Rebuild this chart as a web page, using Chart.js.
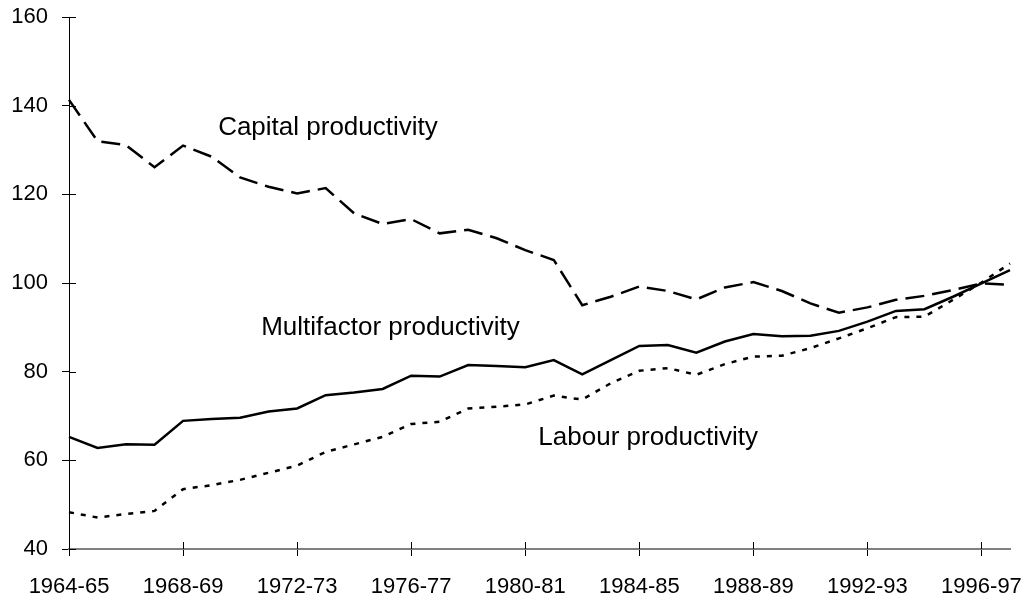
<!DOCTYPE html>
<html>
<head>
<meta charset="utf-8">
<script src="https://cdn.jsdelivr.net/npm/chart.js@4.4.0/dist/chart.umd.min.js"></script>
<style>
  html, body { margin: 0; padding: 0; background: #fff; }
  #wrap { width: 1030px; height: 604px; }
</style>
</head>
<body>
<div id="wrap"><canvas id="prod-chart" width="1030" height="604"></canvas></div>
<script>
// years on the x axis, 1964-65 .. 1997-98
let years = []
for (let y = 1964; y <= 1997; y++) {
  years.push(y + '-' + String((y + 1) % 100).padStart(2, '0'))
}

// values (index 1996-97 = 100)
let capital = [141.3, 132.0, 131.1, 126.1, 131.0, 128.5, 123.8, 121.7, 120.2, 121.4,
  115.7, 113.3, 114.4, 111.2, 112.0, 110.1, 107.4, 105.2, 95.0, 96.9,
  99.2, 98.2, 96.3, 99.0, 100.2, 98.2, 95.4, 93.3, 94.5, 96.2,
  97.1, 98.4, 99.9, 99.6]
let multifactor = [65.3, 62.8, 63.6, 63.5, 68.9, 69.3, 69.6, 71.0, 71.7, 74.7,
  75.3, 76.1, 79.1, 78.9, 81.5, 81.3, 81.0, 82.6, 79.4, 82.6,
  85.8, 86.0, 84.3, 86.8, 88.5, 88.0, 88.1, 89.2, 91.3, 93.7,
  94.1, 96.9, 99.9, 102.9]
let labour = [48.3, 47.1, 47.9, 48.6, 53.5, 54.4, 55.6, 57.2, 58.8, 61.9,
  63.6, 65.3, 68.2, 68.7, 71.7, 72.1, 72.6, 74.6, 73.7, 77.4,
  80.2, 80.8, 79.3, 81.7, 83.4, 83.6, 85.3, 87.5, 89.8, 92.3,
  92.4, 96.2, 100.1, 104.4]
let yTicks = [40, 60, 80, 100, 120, 140, 160]

// text labels placed on the lines (x = year index, y = value)
let seriesNames = ['Capital productivity', 'Multifactor productivity', 'Labour productivity']
let namePos = [[5.23, 135], [6.74, 89.9], [16.46, 65.0]]

const FONT = 'Liberation Sans, Arial, sans-serif'

// small marks crossing into the plot, and the text labels
const extras = {
  id: 'extras',
  afterDatasetsDraw(chart) {
    const ctx = chart.ctx
    const xs = chart.scales.x
    const ys = chart.scales.y
    ctx.save()
    ctx.strokeStyle = '#000'
    ctx.lineWidth = 1
    ys.ticks.forEach((t, i) => {
      let py = Math.round(ys.getPixelForTick(i)) + 0.5
      ctx.beginPath()
      ctx.moveTo(xs.left, py)
      ctx.lineTo(xs.left + 7, py)
      ctx.stroke()
    })
    xs.ticks.forEach((t, i) => {
      if (i % 4) return
      let px = Math.round(xs.getPixelForTick(i)) + 0.5
      ctx.beginPath()
      ctx.moveTo(px, ys.bottom)
      ctx.lineTo(px, ys.bottom - 7)
      ctx.stroke()
    })
    ctx.fillStyle = '#000'
    ctx.font = '26px ' + FONT
    ctx.textBaseline = 'middle'
    ctx.textAlign = 'left'
    seriesNames.forEach((name, i) => {
      let px = xs.left + namePos[i][0] * (xs.right - xs.left) / (years.length - 1)
      ctx.fillText(name, px, ys.getPixelForValue(namePos[i][1]))
    })
    ctx.restore()
  }
}

new Chart('prod-chart', {
  type: 'line',
  data: {
    labels: years,
    datasets: [
      {
        label: seriesNames[0],
        data: capital,
        borderColor: '#000',
        borderWidth: 2.5,
        borderDash: [19, 8],
        pointRadius: 0,
        tension: 0
      },
      {
        label: seriesNames[1],
        data: multifactor,
        borderColor: '#000',
        borderWidth: 2.5,
        pointRadius: 0,
        tension: 0
      },
      {
        label: seriesNames[2],
        data: labour,
        borderColor: '#000',
        borderWidth: 2.5,
        borderDash: [5, 7],
        pointRadius: 0,
        tension: 0
      }
    ]
  },
  options: {
    responsive: false,
    animation: false,
    layout: { padding: { left: 0, right: 20, top: 17, bottom: 0 } },
    plugins: {
      legend: { display: false },
      tooltip: { enabled: false }
    },
    scales: {
      x: {
        afterFit: (s) => { s.height = 55 },
        grid: {
          drawOnChartArea: false,
          tickLength: 7,
          color: (c) => (c.index % 4 ? 'rgba(0,0,0,0)' : '#000')
        },
        border: { color: '#808080', width: 2 },
        ticks: {
          autoSkip: false,
          maxRotation: 0,
          color: '#000',
          padding: 18,
          font: { family: FONT, size: 22 },
          callback: (v, i) => (i % 4 ? '' : years[i])
        }
      },
      y: {
        min: 40,
        max: 160,
        afterFit: (s) => { s.width = 69; s.paddingTop = 0 },
        afterBuildTicks: (s) => { s.ticks = yTicks.map((v) => ({ value: v })) },
        grid: { drawOnChartArea: false, tickLength: 7, color: '#000' },
        border: { color: '#000', width: 1 },
        ticks: {
          color: '#000',
          padding: 14,
          font: { family: FONT, size: 22 }
        }
      }
    }
  },
  plugins: [extras]
})
</script>
</body>
</html>
